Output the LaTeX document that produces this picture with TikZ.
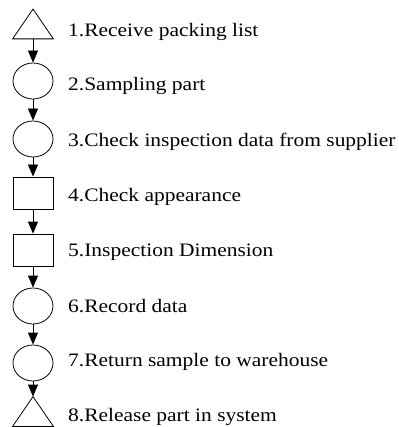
\documentclass[tikz,border=0pt]{standalone}
\usepackage{fontspec}
\setmainfont{Liberation Serif}
\usetikzlibrary{shapes.geometric,arrows.meta}

\tikzset{
  sym/.style={line width=0.8pt, inner sep=0pt},
  oper/.style={sym, draw, ellipse, minimum width=40pt, minimum height=36pt},
  insp/.style={sym, draw, rectangle, minimum width=40pt, minimum height=32pt},
  tribox/.style={sym, draw=none, rectangle, minimum width=40pt, minimum height=29pt},
  flow/.style={line width=0.8pt, -{Triangle[width=10pt,length=12pt]}},
  stepname/.style={anchor=base west, inner sep=0pt, font=\fontsize{19pt}{21pt}\selectfont}
}
\newcommand{\wide}[1]{\scalebox{1.13}[1]{#1}}

\begin{document}
\begin{tikzpicture}[x=1pt, y=-1pt]
  \useasboundingbox (0,0) rectangle (398,427);

  % process symbols
  \node[tribox] (s1) at (33,24) {};
  \draw[line width=0.8pt, line join=miter] (s1.north) -- (s1.south east) -- (s1.south west) -- cycle;
  \node[oper] (s2) at (33,81) {};
  \node[oper] (s3) at (33,139) {};
  \node[insp] (s4) at (33,193) {};
  \node[insp] (s5) at (33,250) {};
  \node[oper] (s6) at (33,306) {};
  \node[oper] (s7) at (33,363) {};
  \node[tribox] (s8) at (33,411.5) {};
  \draw[line width=0.8pt, line join=miter] (s8.north) -- (s8.south east) -- (s8.south west) -- cycle;

  % flow between steps
  \draw[flow] (s1.south) -- (s2.north);
  \draw[flow] (s2.south) -- (s3.north);
  \draw[flow] (s3.south) -- (s4.north);
  \draw[flow] (s4.south) -- (s5.north);
  \draw[flow] (s5.south) -- (s6.north);
  \draw[flow] (s6.south) -- (s7.north);
  \draw[flow] (s7.south) -- (s8.north);

  % step descriptions
  \node[stepname] (l1) at (68,37)  {\wide{1.Receive packing list}};
  \node[stepname] (l2) at (68,91)  {\wide{2.Sampling part}};
  \node[stepname] (l3) at (68,147) {\wide{3.Check inspection data from supplier}};
  \node[stepname] (l4) at (68,201) {\wide{4.Check appearance}};
  \node[stepname] (l5) at (68,256) {\wide{5.Inspection Dimension}};
  \node[stepname] (l6) at (68,312) {\wide{6.Record data}};
  \node[stepname] (l7) at (68,366) {\wide{7.Return sample to warehouse}};
  \node[stepname] (l8) at (68,421) {\wide{8.Release part in system}};
\end{tikzpicture}
\end{document}
